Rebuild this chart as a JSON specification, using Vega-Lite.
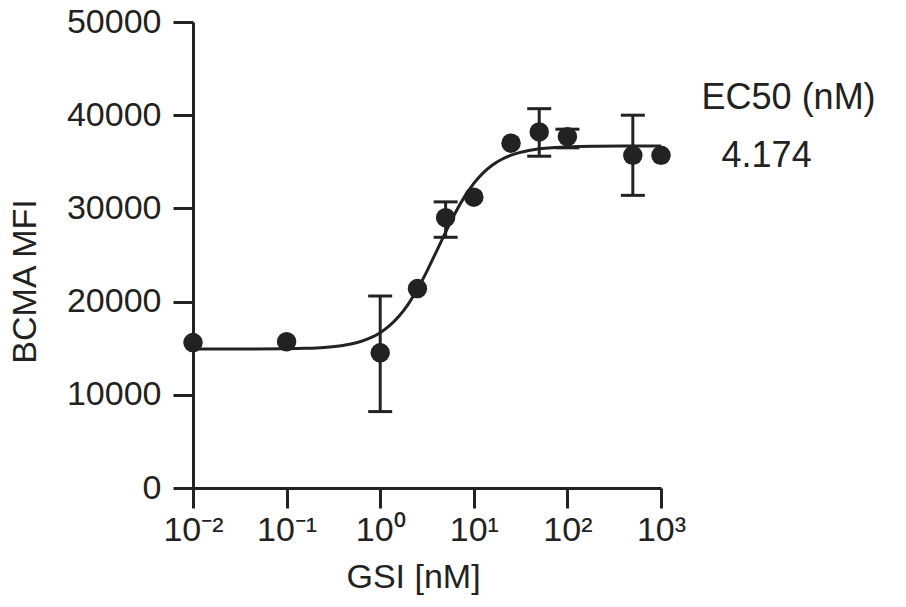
{
  "$schema": "https://vega.github.io/schema/vega-lite/v6.json",
  "autosize": "none",
  "width": 468,
  "height": 466,
  "padding": {"left": 193, "top": 22, "right": 245, "bottom": 119},
  "background": "white",
  "config": {
    "view": {"stroke": null},
    "font": "Liberation Sans",
    "axis": {
      "domainColor": "#222",
      "domainWidth": 3,
      "tickColor": "#222",
      "tickWidth": 3,
      "tickSize": 20,
      "grid": false,
      "labelFont": "Liberation Sans",
      "labelFontSize": 34,
      "labelColor": "#222",
      "titleFont": "Liberation Sans",
      "titleFontSize": 34,
      "titleFontWeight": "normal",
      "titleColor": "#222"
    }
  },
  "title": {
    "text": "EC50 (nM)",
    "subtitle": "\u2060\u00a0\u00a04.174",
    "anchor": "end",
    "align": "left",
    "orient": "top",
    "dx": 16,
    "dy": 174,
    "font": "Liberation Sans",
    "subtitleFont": "Liberation Sans",
    "fontSize": 36,
    "subtitleFontSize": 36,
    "fontWeight": "normal",
    "color": "#222",
    "subtitleColor": "#222",
    "subtitlePadding": 22
  },
  "datasets": {
    "measured": [
      {"conc": 0.01, "mfi": 15600},
      {"conc": 0.1, "mfi": 15700},
      {"conc": 1, "mfi": 14500, "lo": 8200, "hi": 20600},
      {"conc": 2.5, "mfi": 21400},
      {"conc": 5, "mfi": 29000, "lo": 26900, "hi": 30700},
      {"conc": 10, "mfi": 31200},
      {"conc": 25, "mfi": 37000},
      {"conc": 50, "mfi": 38200, "lo": 35600, "hi": 40700},
      {"conc": 100, "mfi": 37700, "lo": 36500, "hi": 38500},
      {"conc": 500, "mfi": 35700, "lo": 31400, "hi": 40000},
      {"conc": 1000, "mfi": 35700}
    ],
    "fit": [
      {"conc": 0.01, "mfi": 14901},
      {"conc": 0.0316, "mfi": 14905},
      {"conc": 0.1, "mfi": 14938},
      {"conc": 0.1585, "mfi": 14983},
      {"conc": 0.2512, "mfi": 15082},
      {"conc": 0.3981, "mfi": 15294},
      {"conc": 0.5012, "mfi": 15478},
      {"conc": 0.631, "mfi": 15745},
      {"conc": 0.7943, "mfi": 16125},
      {"conc": 1, "mfi": 16666},
      {"conc": 1.259, "mfi": 17414},
      {"conc": 1.585, "mfi": 18425},
      {"conc": 1.995, "mfi": 19738},
      {"conc": 2.512, "mfi": 21367},
      {"conc": 3.162, "mfi": 23275},
      {"conc": 3.981, "mfi": 25362},
      {"conc": 5.012, "mfi": 27481},
      {"conc": 6.31, "mfi": 29480},
      {"conc": 7.943, "mfi": 31233},
      {"conc": 10, "mfi": 32678},
      {"conc": 12.59, "mfi": 33807},
      {"conc": 15.85, "mfi": 34657},
      {"conc": 19.95, "mfi": 35276},
      {"conc": 25.12, "mfi": 35717},
      {"conc": 39.81, "mfi": 36240},
      {"conc": 63.1, "mfi": 36487},
      {"conc": 100, "mfi": 36602},
      {"conc": 199.5, "mfi": 36670},
      {"conc": 398.1, "mfi": 36690},
      {"conc": 1000, "mfi": 36699}
    ]
  },
  "layer": [
    {
      "data": {"name": "fit"},
      "mark": {"type": "line", "color": "#222", "strokeWidth": 3, "interpolate": "monotone"},
      "encoding": {
        "x": {
          "field": "conc",
          "type": "quantitative",
          "scale": {"type": "log", "domain": [0.01, 1000], "nice": false},
          "axis": {
            "title": "GSI [nM]",
            "values": [0.01, 0.1, 1, 10, 100, 1000],
            "labelExpr": "round(log(datum.value)/LN10) == -2 ? '10⁻²' : round(log(datum.value)/LN10) == -1 ? '10⁻¹' : round(log(datum.value)/LN10) == 0 ? '10⁰' : round(log(datum.value)/LN10) == 1 ? '10¹' : round(log(datum.value)/LN10) == 2 ? '10²' : '10³'",
            "labelPadding": 5,
            "labelFlush": false,
            "labelOverlap": false,
            "titlePadding": 13,
            "titleX": 220
          }
        },
        "y": {
          "field": "mfi",
          "type": "quantitative",
          "title": "BCMA MFI",
          "scale": {"domain": [0, 50000], "nice": false},
          "axis": {
            "title": "BCMA MFI",
            "values": [0, 10000, 20000, 30000, 40000, 50000],
            "format": "d",
            "labelPadding": 12,
            "titlePadding": 24,
            "titleY": 259
          }
        }
      }
    },
    {
      "data": {"name": "measured"},
      "transform": [{"filter": "isValid(datum.lo)"}],
      "mark": {
        "type": "errorbar",
        "ticks": {"size": 24, "thickness": 3, "color": "#222", "opacity": 1},
        "rule": {"strokeWidth": 3, "color": "#222", "opacity": 1}
      },
      "encoding": {
        "x": {"field": "conc", "type": "quantitative"},
        "y": {"field": "lo", "type": "quantitative", "title": "BCMA MFI"},
        "y2": {"field": "hi"}
      }
    },
    {
      "data": {"name": "measured"},
      "mark": {"type": "circle", "size": 380, "color": "#222", "opacity": 1},
      "encoding": {
        "x": {"field": "conc", "type": "quantitative"},
        "y": {"field": "mfi", "type": "quantitative", "title": "BCMA MFI"}
      }
    }
  ]
}
